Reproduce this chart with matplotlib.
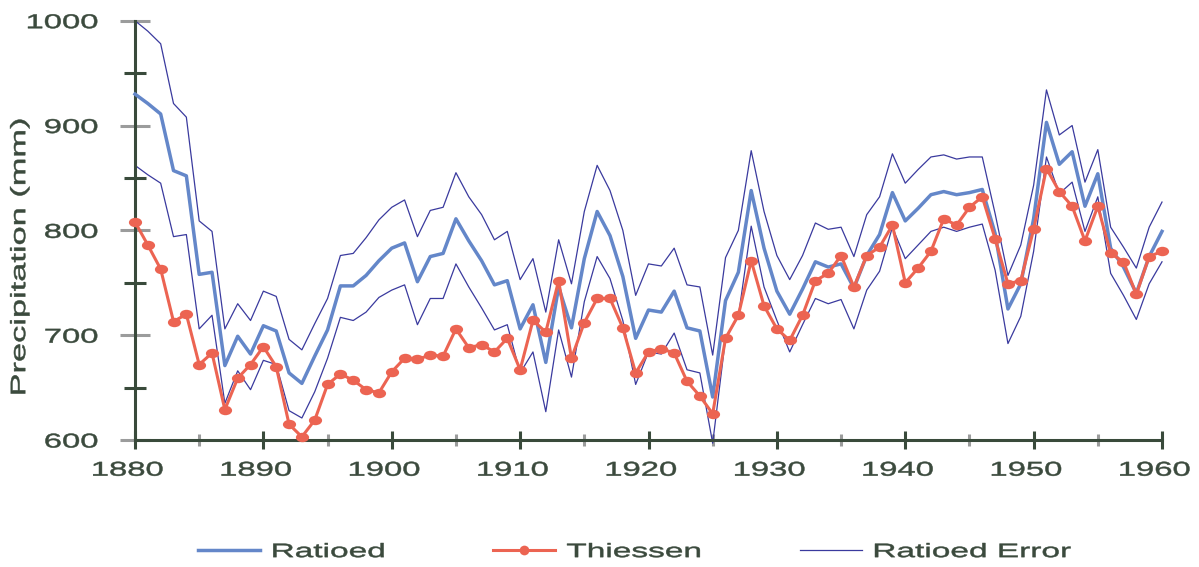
import numpy as np
import matplotlib
matplotlib.use('Agg')
import matplotlib.pyplot as plt
from matplotlib import patheffects
from matplotlib.path import Path
from matplotlib.transforms import Affine2D
from matplotlib.ticker import MultipleLocator

years = list(range(1880, 1961))

ratioed = [930, 921, 911, 857, 852, 758, 760, 671, 699, 682,
           709, 704, 664, 654, 680, 705, 747, 747, 757, 771,
           783, 788, 751, 775, 778, 811, 790, 771, 748, 752,
           706, 729, 674, 746, 707, 773, 818, 795, 756, 697,
           724, 722, 742, 707, 704, 641, 733, 760, 838, 783,
           742, 720, 744, 770, 765, 768, 745, 776, 796, 836,
           809, 821, 834, 837, 834, 836, 839, 797, 725, 749,
           811, 903, 863, 875, 823, 854, 783, 765, 740, 775,
           799]

upper = [1000, 990, 978, 921, 908, 809, 799, 706, 730, 714,
         742, 737, 696, 686, 711, 735, 776, 778, 793, 810,
         822, 829, 794, 819, 822, 855, 832, 815, 791, 799,
         753, 773, 722, 791, 749, 818, 862, 838, 800, 738,
         768, 766, 783, 748, 746, 681, 774, 800, 876, 818,
         776, 753, 776, 807, 801, 803, 775, 815, 832, 873,
         845, 858, 870, 872, 868, 870, 870, 816, 757, 786,
         843, 934, 891, 900, 846, 877, 803, 784, 764, 803,
         827]

lower = [862, 853, 845, 794, 796, 706, 719, 635, 666, 648,
         676, 672, 628, 621, 646, 678, 717, 714, 722, 736,
         743, 748, 710, 735, 735, 768, 746, 726, 705, 710,
         664, 684, 627, 705, 660, 732, 775, 754, 714, 653,
         684, 682, 702, 667, 664, 597, 697, 718, 804, 746,
         714, 684, 710, 735, 730, 734, 706, 743, 761, 803,
         773, 786, 799, 803, 799, 803, 806, 762, 692, 718,
         780, 870, 835, 846, 799, 832, 759, 738, 715, 749,
         770]

thiessen = [808, 786, 763, 713, 720, 672, 683, 629, 659, 672,
            689, 670, 615, 603, 619, 653, 663, 657, 648, 645,
            665, 678, 677, 681, 680, 706, 688, 691, 684, 697,
            667, 714, 703, 752, 678, 712, 735, 735, 707, 664,
            684, 687, 683, 656, 642, 625, 697, 719, 771, 728,
            706, 695, 719, 752, 759, 776, 746, 776, 784, 805,
            750, 764, 780, 811, 805, 822, 832, 792, 749, 752,
            801, 859, 837, 823, 790, 823, 778, 770, 739, 775,
            780]

TXT = '#3b4a3d'
DARK = '#394a3b'
GRAY = '#9b9c9c'
BLUE = '#6487c9'
RED = '#ec6452'
NAVY = '#3a3a9e'


class Stretch(patheffects.AbstractPathEffect):
    # the original uses an expanded face, so widen glyphs along the text direction
    def __init__(self, sx=1.65, anchor='center', dx=0, weight=0.35):
        super().__init__()
        self.sx = sx
        self.anchor = anchor
        self.dx = dx
        self.weight = weight

    def draw_path(self, renderer, gc, tpath, affine, rgbFace=None):
        ext = tpath.get_extents()
        if self.anchor == 'left':
            cx = ext.x0
        elif self.anchor == 'right':
            cx = ext.x1
        else:
            cx = (ext.x0 + ext.x1) / 2
        t = (Affine2D().translate(-cx, 0).scale(self.sx, 1).translate(cx, 0)
             + affine + Affine2D().translate(self.dx, 0))
        gc0 = renderer.new_gc()
        gc0.copy_properties(gc)
        gc0.set_linewidth(self.weight)
        renderer.draw_path(gc0, tpath, t, rgbFace)
        gc0.restore()


plt.rcParams['font.family'] = ['Liberation Sans', 'DejaVu Sans']

fig = plt.figure(figsize=(11.99, 5.67), dpi=100)
ax = fig.add_axes([135 / 1199, 127 / 567, 1027 / 1199, 419.3 / 567])

ell = Path.unit_circle().transformed(Affine2D().scale(1.4, 1.0))

l_rat, = ax.plot(years, ratioed, color=BLUE, lw=2.5, zorder=3, clip_on=False, label='Ratioed')
l_th, = ax.plot(years, thiessen, color=RED, lw=2.2, marker=ell, markersize=9.5,
                markeredgewidth=0, zorder=4, clip_on=False, label='Thiessen')
l_err, = ax.plot(years, upper, color=NAVY, lw=0.9, zorder=2, clip_on=False, label='Ratioed Error')
ax.plot(years, lower, color=NAVY, lw=0.9, zorder=2, clip_on=False)

ax.set_xlim(1880, 1960)
ax.set_ylim(600, 1000)

for s in ['top', 'right']:
    ax.spines[s].set_visible(False)
for s in ['left', 'bottom']:
    ax.spines[s].set_color(DARK)
    ax.spines[s].set_linewidth(2.2)

ax.xaxis.set_major_locator(MultipleLocator(10))
ax.xaxis.set_minor_locator(MultipleLocator(5))
ax.yaxis.set_major_locator(MultipleLocator(100))
ax.yaxis.set_minor_locator(MultipleLocator(50))

ax.tick_params(axis='x', which='major', direction='inout', length=13, width=2.2,
               color=DARK, labelcolor=TXT, labelsize=14.4, pad=8.4)
ax.tick_params(axis='x', which='minor', direction='inout', length=8.6, width=2.2, color=GRAY)
ax.tick_params(axis='y', which='major', direction='inout', length=22.3, width=2.2,
               color=GRAY, labelcolor=TXT, labelsize=14.4, pad=15.5)
ax.tick_params(axis='y', which='minor', direction='inout', length=15.8, width=2.2, color=DARK)

for lab in ax.get_xticklabels():
    lab.set_path_effects([Stretch(1.64, 'center', dx=-7.5)])
for lab in ax.get_yticklabels():
    lab.set_path_effects([Stretch(1.64, 'right')])

ax.set_ylabel('Precipitation (mm)', fontsize=15, color=TXT, va='center')
ax.yaxis.set_label_coords(-0.1123, 0.4376)
ax.yaxis.label.set_path_effects([Stretch(1.65, 'center')])

leg = fig.legend(handles=[l_rat, l_th, l_err], loc='center left',
                 bbox_to_anchor=(198 / 1199, 14.7 / 567), bbox_transform=fig.transFigure,
                 ncol=3, frameon=False, fontsize=14, handlelength=3.19,
                 handletextpad=0.6, columnspacing=7.9, borderpad=0, borderaxespad=0)
for t in leg.get_texts():
    t.set_color(TXT)
    t.set_path_effects([Stretch(1.72, 'left')])
leg.legend_handles[1].set_marker('o')
leg.legend_handles[1].set_markersize(7)

fig.savefig('out.png', dpi=100)
